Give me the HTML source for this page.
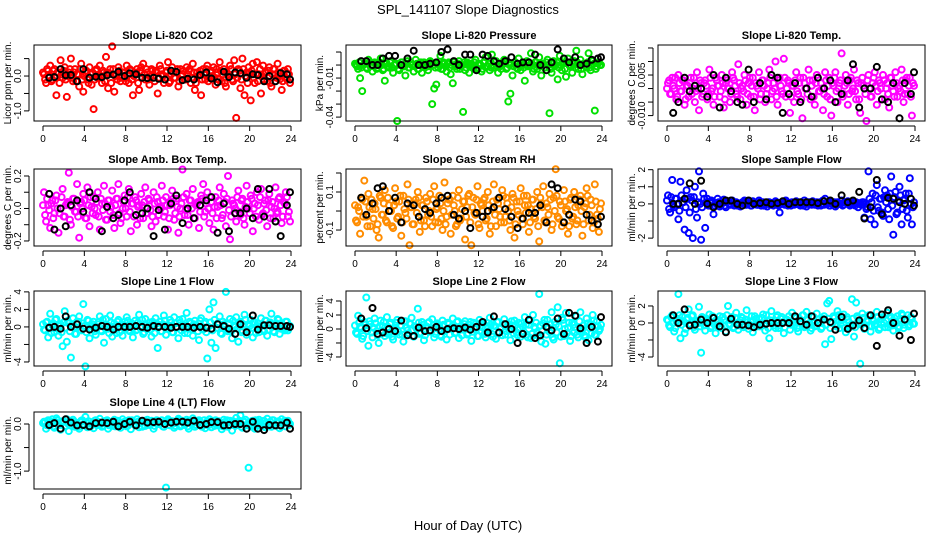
<!DOCTYPE html>
<html><head><meta charset="utf-8"><style>
html,body{margin:0;padding:0;background:#fff;}
svg{display:block;font-family:"Liberation Sans",sans-serif;}
</style></head><body>
<svg id="chart" width="936" height="540" viewBox="0 0 936 540" xmlns="http://www.w3.org/2000/svg">
<text x="468" y="14" text-anchor="middle" font-size="13">SPL_141107  Slope Diagnostics</text>
<text x="468" y="530" text-anchor="middle" font-size="13">Hour of Day (UTC)</text>
</svg>
<script>
const hours=[0.1,0.3,0.5,0.7,0.9,1.1,1.3,1.5,1.7,1.9,2.1,2.3,2.5,2.7,2.9,3.1,3.3,3.5,3.7,3.9,4.1,4.3,4.5,4.7,4.9,5.1,5.3,5.5,5.7,5.9,6.1,6.3,6.5,6.7,6.9,7.1,7.3,7.5,7.7,7.9,8.1,8.3,8.5,8.7,8.9,9.1,9.3,9.5,9.7,9.9,10.1,10.3,10.5,10.7,10.9,11.1,11.3,11.5,11.7,11.9,12.1,12.3,12.5,12.7,12.9,13.1,13.3,13.5,13.7,13.9,14.1,14.3,14.5,14.7,14.9,15.1,15.3,15.5,15.7,15.9,16.1,16.3,16.5,16.7,16.9,17.1,17.3,17.5,17.7,17.9,18.1,18.3,18.5,18.7,18.9,19.1,19.3,19.5,19.7,19.9,20.1,20.3,20.5,20.7,20.9,21.1,21.3,21.5,21.7,21.9,22.1,22.3,22.5,22.7,22.9,23.1,23.3,23.5,23.7,23.9];
const coreHours=[0.0,0.2,0.4,0.6,0.8,1.0,1.2,1.4,1.6,1.8,2.0,2.2,2.4,2.6,2.8,3.0,3.2,3.4,3.6,3.8,4.0,4.2,4.4,4.6,4.8,5.0,5.2,5.4,5.6,5.8,6.0,6.2,6.4,6.6,6.8,7.0,7.2,7.4,7.6,7.8,8.0,8.2,8.4,8.6,8.8,9.0,9.2,9.4,9.6,9.8,10.0,10.2,10.4,10.6,10.8,11.0,11.2,11.4,11.6,11.8,12.0,12.2,12.4,12.6,12.8,13.0,13.2,13.4,13.6,13.8,14.0,14.2,14.4,14.6,14.8,15.0,15.2,15.4,15.6,15.8,16.0,16.2,16.4,16.6,16.8,17.0,17.2,17.4,17.6,17.8,18.0,18.2,18.4,18.6,18.8,19.0,19.2,19.4,19.6,19.8,20.0,20.2,20.4,20.6,20.8,21.0,21.2,21.4,21.6,21.8,22.0,22.2,22.4,22.6,22.8,23.0,23.2,23.4,23.6,23.8];
const blackHours=[0.6,1.1,1.7,2.2,2.7,3.3,3.9,4.5,5.1,5.7,6.2,6.8,7.3,7.9,8.4,9.0,9.6,10.1,10.7,11.2,11.8,12.4,12.9,13.5,14.0,14.6,15.2,15.8,16.3,16.9,17.5,18.0,18.6,19.1,19.7,20.3,20.8,21.4,21.9,22.5,23.0,23.6,23.9];
const xTicks=[0,4,8,12,16,20,24];

const co2=[0.05,-0.2,0.15,0.3,-0.1,0.2,-0.55,0.1,0.45,-0.05,0.25,-0.6,0.1,0.5,-0.15,0.2,0.05,-0.3,0.35,-0.45,0.1,-0.1,0.25,-0.25,-0.95,0.15,-0.05,0.3,-0.2,0.1,0.55,-0.35,0.2,0.85,-0.45,0.05,0.25,-0.15,0.1,-0.05,0.3,-0.2,0.15,-0.55,0.05,0.2,-0.4,0.25,0.35,-0.1,0.1,-0.25,0.2,-0.05,0.15,-0.5,0.3,0.05,-0.2,0.1,0.4,-0.15,0.25,-0.05,0.1,-0.3,0.2,0.05,-0.1,0.25,0.15,-0.2,0.35,-0.4,0.1,0.05,-0.55,0.2,-0.1,0.3,-0.05,0.15,0.25,-0.25,0.1,0.4,-0.15,0.2,-0.3,0.05,0.3,-0.1,0.45,-1.2,0.2,-0.35,0.5,-0.55,0.1,0.25,-0.7,0.35,-0.2,0.4,0.05,-0.5,0.3,0.1,-0.15,0.25,-0.3,0.2,0.05,0.35,-0.1,-0.4,0.15,-0.05,0.2,-0.2];
const co2Core=[0.1,-0.1,0.2,0.0,-0.15,0.15,-0.05,0.1,-0.2,0.05,0.15,-0.1,0.0,0.2,-0.05,0.1,-0.15,0.05,0.2,-0.1,0.0,0.15,-0.2,0.05,0.1,-0.1,0.2,-0.05,0.0,0.15,-0.15,0.1,0.05,-0.2,0.2,0.0,-0.1,0.15,-0.05,0.1,-0.15,0.05,0.2,-0.1,0.0,0.1,-0.2,0.15,-0.05,0.05,0.2,-0.1,0.0,0.15,-0.15,0.1,-0.05,0.2,0.0,-0.1,0.15,-0.2,0.05,0.1,-0.05,0.2,-0.15,0.0,0.15,-0.1,0.05,0.2,-0.05,0.1,-0.2,0.0,0.15,-0.1,0.05,0.2,-0.15,0.1,0.0,-0.05,0.2,-0.1,0.15,0.05,-0.2,0.1,0.0,0.2,-0.15,0.05,-0.05,0.15,-0.1,0.2,0.0,-0.2,0.1,0.15,-0.05,0.05,-0.15,0.2,0.0,-0.1,0.1,0.15,-0.2,0.05,0.2,-0.05,0.0,0.1,-0.15,0.15,-0.1,0.05];
const co2Black=[-0.05,-0.03,0.2,0.02,0.03,-0.15,0.2,-0.05,-0.02,-0.03,0.02,0.04,0.12,0.0,0.08,0.05,-0.05,-0.06,-0.05,-0.08,-0.1,0.15,0.12,-0.12,-0.08,-0.1,0.03,0.1,-0.07,-0.18,0.12,-0.03,0.1,0.08,-0.05,0.05,0.03,-0.15,0.0,-0.15,0.08,0.05,-0.1];
const pres=[0,-0.003,-0.01,-0.02,0.001,-0.002,0.004,-0.001,-0.005,0.002,-0.003,0,0.005,-0.004,-0.012,0.001,-0.002,0.003,-0.006,0,-0.043,-0.004,0.002,-0.001,-0.008,0.003,-0.002,0,-0.005,0.004,-0.003,0.001,-0.006,0.002,-0.001,-0.004,0.003,-0.03,-0.018,-0.015,-0.002,0.007,-0.003,0.001,-0.005,0.002,-0.007,-0.014,0,-0.003,0.003,-0.001,-0.036,-0.004,0.002,-0.006,0.001,-0.002,0.004,-0.003,0,-0.005,0.002,0.006,-0.001,-0.004,0.008,-0.002,0.003,-0.006,-0.001,0.001,0.004,-0.003,-0.028,-0.022,-0.008,0.002,-0.002,0.005,-0.004,0,-0.012,0.003,-0.001,0.009,-0.005,0.002,-0.003,0.006,-0.008,0.001,-0.002,0.004,-0.037,-0.006,0.003,0,-0.011,0.007,-0.004,0.002,-0.009,0.005,-0.001,-0.006,0.003,0.011,-0.003,0.004,-0.007,0.001,-0.002,0.009,-0.004,0.003,-0.035,-0.001,0.002,0];
const presCore=[0.001,-0.001,0.002,-0.002,0.0,0.001,-0.003,0.002,0.0,-0.001,0.001,-0.002,0.002,0.0,-0.003,0.001,-0.001,0.002,-0.002,0.0,0.001,-0.003,0.0,0.002,-0.001,0.001,-0.002,0.002,0.0,-0.001,0.001,-0.003,0.002,0.0,-0.002,0.001,-0.001,0.002,0.0,-0.002,0.001,0.0,-0.003,0.002,-0.001,0.001,-0.002,0.0,0.002,-0.001,0.001,-0.003,0.0,0.002,-0.002,0.001,0.0,-0.001,0.002,-0.002,0.001,0.0,-0.003,0.002,-0.001,0.001,-0.002,0.0,0.002,-0.001,0.0,-0.003,0.001,0.002,-0.002,0.0,0.001,-0.001,0.002,-0.003,0.0,0.001,-0.002,0.002,-0.001,0.0,0.001,-0.003,0.002,0.0,-0.001,0.001,-0.002,0.002,0.0,-0.003,0.001,-0.001,0.002,-0.002,0.0,0.001,-0.003,0.002,0.0,-0.001,0.001,-0.002,0.002,0.0,-0.003,0.001,-0.001,0.002,-0.002,0.0,0.001,-0.003,0.002,0.0];
const presBlack=[0.003,0.003,0,0,0.005,0.007,0.007,0,0.005,0.011,0,0,0.001,0.002,0.01,0.012,0.003,0,0.008,0.008,-0.004,0.008,0.007,0.003,0.001,0.003,0.006,0.001,0.002,0.002,0.008,0,-0.004,0.002,0.012,0.005,0.002,0.006,0,0.001,0.004,0.005,0.006];
const temp=[0.002,-0.002,0.004,0.0,-0.004,0.005,-0.001,0.003,-0.006,0.001,-0.003,0.004,0.0,-0.005,0.006,-0.008,0.002,-0.002,0.003,-0.004,0.007,-0.001,-0.006,0.004,0.001,-0.003,0.005,-0.007,0.002,0.0,-0.005,0.006,0.003,-0.002,0.009,-0.004,0.001,0.005,-0.006,0.002,-0.003,0.004,-0.008,0.001,0.006,-0.002,0.003,-0.005,0.0,0.007,-0.004,0.002,0.01,-0.006,0.004,-0.001,0.011,-0.003,0.003,-0.009,0.001,-0.005,0.006,-0.002,0.004,-0.011,0.002,0.0,0.007,-0.004,0.003,-0.006,0.005,-0.001,0.002,-0.008,0.006,-0.003,0.004,-0.010,0.001,0.006,-0.005,0.002,0.013,-0.002,0.005,-0.006,0.003,-0.001,0.007,-0.004,0.002,-0.009,0.004,0.0,-0.012,0.005,-0.003,0.002,0.006,-0.006,0.003,0.0,0.005,-0.004,0.002,-0.007,0.004,-0.001,0.006,-0.003,0.001,0.007,-0.005,0.003,-0.002,0.004,-0.010,0.001];
const tempCore=[0.0,0.003,-0.002,0.001,0.004,-0.003,0.002,-0.001,0.003,-0.004,0.001,0.002,-0.002,0.004,-0.001,0.0,0.003,-0.003,0.002,0.001,-0.002,0.004,0.0,-0.003,0.003,0.001,-0.001,0.002,-0.004,0.003,0.0,-0.002,0.004,0.001,-0.003,0.002,0.0,-0.001,0.003,-0.002,0.004,0.001,-0.003,0.002,0.0,-0.004,0.003,0.001,-0.002,0.002,0.004,-0.001,0.0,-0.003,0.003,0.001,-0.002,0.004,0.0,0.002,-0.003,0.001,0.003,-0.001,0.002,-0.004,0.004,0.0,-0.002,0.003,0.001,-0.003,0.002,0.004,-0.001,0.0,-0.002,0.003,0.001,-0.004,0.002,0.004,-0.001,0.0,0.003,-0.003,0.001,0.002,-0.002,0.004,0.0,-0.001,0.003,-0.004,0.002,0.001,-0.002,0.003,0.0,-0.003,0.004,0.001,-0.001,0.002,-0.004,0.003,0.0,-0.002,0.004,0.001,-0.003,0.002,0.0,-0.001,0.003,-0.002,0.004,0.001,-0.003,0.002];
const tempBlack=[-0.009,-0.005,0.004,-0.001,0.001,0.0,-0.003,0.005,-0.007,0.004,-0.001,-0.005,-0.006,0.007,-0.005,0.002,-0.004,0.005,0.004,-0.009,-0.002,0.002,-0.005,0.0,-0.003,0.004,0.0,0.003,-0.005,-0.002,0.003,0.009,-0.007,0.0,0.0,0.008,-0.004,-0.005,0.002,-0.011,0.002,-0.002,0.006];
const amb=[0.1,-0.08,0.02,-0.12,0.05,-0.03,0.08,-0.15,0.0,0.12,-0.05,0.03,0.22,-0.1,0.06,-0.02,0.15,-0.18,0.04,0.09,-0.06,0.13,-0.11,0.01,0.07,-0.04,0.1,-0.13,0.03,0.14,-0.07,0.05,-0.02,0.11,-0.12,0.06,0.15,-0.09,0.0,0.08,-0.05,0.12,-0.14,0.03,0.07,-0.1,0.02,0.09,-0.06,0.13,-0.03,0.05,-0.11,0.1,-0.08,0.04,0.01,0.14,-0.05,0.07,-0.13,0.02,0.11,-0.07,0.06,-0.15,0.0,0.24,-0.04,0.09,-0.1,0.05,0.12,-0.06,0.03,-0.12,0.08,0.15,-0.02,0.1,-0.09,0.04,-0.13,0.07,0.01,0.13,-0.06,0.09,-0.11,0.2,-0.19,0.05,0.02,-0.08,0.11,-0.04,0.06,-0.1,0.14,0.0,0.08,-0.14,0.03,0.1,-0.07,0.12,-0.03,0.05,-0.11,0.09,0.01,-0.06,0.13,-0.02,0.07,-0.09,0.04,0.1,-0.05,-0.08];
const ambCore=[0.02,-0.04,0.06,-0.01,0.03,-0.06,0.05,0.0,-0.03,0.07,-0.05,0.02,0.04,-0.07,0.01,0.06,-0.02,-0.05,0.03,0.0,0.05,-0.06,0.02,0.07,-0.03,0.0,0.04,-0.05,0.06,-0.01,0.03,-0.07,0.05,0.01,-0.04,0.02,0.06,-0.03,-0.06,0.04,0.0,0.07,-0.02,0.03,-0.05,0.05,0.01,-0.06,0.02,0.04,-0.03,0.06,-0.01,-0.05,0.03,0.07,-0.04,0.0,0.05,-0.02,0.02,-0.06,0.04,0.06,-0.03,0.01,-0.05,0.03,0.07,-0.01,-0.04,0.05,0.0,-0.06,0.02,0.04,-0.02,0.06,-0.05,0.03,0.0,0.07,-0.03,0.01,-0.06,0.05,0.02,-0.04,0.04,0.06,-0.01,-0.05,0.03,0.0,0.07,-0.02,0.05,-0.06,0.01,0.04,-0.03,0.06,0.0,-0.05,0.02,0.07,-0.04,0.03,-0.01,0.05,-0.06,0.04,0.0,-0.03,0.06,0.02,-0.05,0.03,0.07,-0.02];
const ambBlack=[0.09,-0.13,0.0,-0.11,0.02,0.05,-0.02,0.1,0.06,-0.14,0.01,-0.06,-0.04,0.05,0.1,-0.04,-0.03,0.0,-0.17,-0.01,-0.13,0.03,0.08,-0.09,0.0,-0.06,0.02,0.05,0.07,-0.15,0.03,-0.14,-0.03,-0.03,0.0,-0.06,0.12,-0.05,0.12,-0.08,-0.17,0.02,0.1];
const rh=[-0.05,0.02,-0.12,0.06,0.16,-0.03,0.09,-0.08,0.01,0.04,-0.1,-0.14,0.07,-0.02,0.11,-0.06,0.03,0.0,-0.09,0.12,-0.04,0.05,-0.13,0.08,-0.01,0.14,-0.18,0.02,-0.07,0.06,0.1,-0.11,0.03,-0.05,0.07,-0.02,0.09,-0.08,0.13,0.01,-0.06,0.04,-0.1,0.15,-0.03,0.06,-0.12,0.08,0.0,-0.07,0.11,-0.04,0.05,-0.15,0.02,0.09,-0.18,0.07,-0.02,0.13,-0.09,0.03,0.06,-0.05,0.1,-0.12,0.01,0.14,-0.08,0.04,-0.03,0.11,-0.06,0.07,0.0,-0.1,0.09,-0.14,0.05,-0.02,0.12,-0.07,0.03,0.08,-0.11,0.01,0.06,-0.04,0.1,-0.16,0.04,0.13,-0.06,0.02,0.09,-0.1,0.07,0.22,-0.03,0.05,-0.08,0.11,0.0,-0.12,0.06,-0.04,0.1,-0.07,0.03,0.08,-0.13,0.02,0.12,-0.05,0.06,-0.09,0.14,-0.02,-0.11,0.04];
const rhCore=[0.03,-0.06,0.0,0.07,-0.03,0.05,-0.08,0.02,0.06,-0.04,0.01,-0.07,0.08,-0.02,0.04,-0.05,0.07,0.0,-0.08,0.03,0.05,-0.03,0.08,-0.06,0.01,-0.04,0.06,0.02,-0.07,0.04,-0.01,0.07,-0.05,0.03,-0.08,0.05,0.0,-0.03,0.06,-0.06,0.02,0.08,-0.04,0.0,-0.07,0.04,0.06,-0.02,0.03,-0.08,0.07,-0.05,0.01,0.05,-0.03,0.08,-0.06,0.02,-0.01,0.06,-0.07,0.04,0.0,0.07,-0.04,0.03,-0.08,0.05,-0.02,0.06,0.01,-0.06,0.08,-0.03,0.04,-0.05,0.02,0.07,-0.07,0.0,0.05,-0.04,0.08,-0.01,0.03,-0.06,0.06,-0.03,0.01,-0.08,0.07,0.02,-0.05,0.04,-0.02,0.06,-0.07,0.0,0.08,-0.04,0.03,-0.06,0.05,0.01,-0.08,0.07,-0.03,0.02,-0.05,0.06,0.0,-0.07,0.04,0.08,-0.02,0.03,-0.06,0.05,-0.04,0.01];
const rhBlack=[0.07,-0.02,0.04,0.12,0.13,0.0,0.07,-0.06,0.04,0.03,-0.03,0.01,-0.01,0.04,0.07,0.08,-0.02,-0.04,0.0,-0.09,-0.01,-0.03,0.0,0.02,0.07,0.01,-0.03,-0.09,-0.04,-0.01,-0.01,0.03,-0.06,0.14,0.12,-0.06,-0.02,0.06,0.05,-0.02,-0.05,-0.07,-0.03];
const sflow=[0.5,-0.5,1.4,-0.2,0.3,-0.9,1.3,0.1,-1.5,0.8,-1.7,0.4,-2.0,1.0,-0.8,1.9,-2.1,0.6,-1.4,0.3,-0.1,0.2,-0.6,0.05,0.3,-0.15,0.1,0.25,-0.2,0.15,-0.05,0.2,-0.1,0.1,0.0,-0.15,0.1,0.2,-0.05,0.1,-0.1,0.15,0.05,-0.05,0.2,-0.1,0.1,0.0,-0.15,0.1,0.05,-0.1,0.15,-0.05,-0.5,0.1,0.0,0.2,-0.1,0.05,0.1,-0.05,0.15,0.0,-0.1,0.05,0.2,-0.15,0.1,0.0,0.15,-0.05,0.1,0.05,-0.1,0.2,0.3,0.0,-0.1,0.1,0.05,-0.15,0.1,0.0,0.2,-0.05,0.1,0.15,-0.1,0.05,0.0,0.1,-0.2,0.05,0.1,-0.8,-0.3,1.9,-0.9,0.6,-1.2,1.1,-0.4,0.3,-0.7,0.8,0.5,-0.9,1.6,-1.8,0.7,-0.5,1.0,-1.2,0.2,0.6,-0.8,1.5,-1.2,0.1];
const sflowCore=[0.2,-0.3,0.4,-0.1,0.3,0.0,-0.4,0.5,0.1,-0.2,0.3,-0.5,0.2,0.4,-0.3,0.1,0.0,-0.2,0.3,0.1,-0.1,0.05,0.1,-0.1,0.0,0.1,-0.05,0.05,-0.1,0.1,0.0,-0.05,0.1,0.05,-0.1,0.0,0.05,0.1,-0.05,0.0,0.1,-0.1,0.05,0.0,-0.05,0.1,0.05,-0.1,0.0,0.1,-0.05,0.05,0.0,0.1,-0.1,0.05,0.0,-0.05,0.1,0.0,-0.1,0.05,0.1,0.0,-0.05,0.1,-0.1,0.05,0.0,0.1,-0.05,0.0,0.05,-0.1,0.1,0.0,-0.05,0.05,0.1,-0.1,0.0,0.1,-0.05,0.05,0.0,-0.1,0.1,0.05,0.0,-0.05,0.1,-0.1,0.05,0.0,-0.05,0.1,0.0,-0.2,0.3,0.1,-0.4,0.5,-0.2,0.3,-0.5,0.4,0.1,-0.3,0.6,-0.1,0.4,-0.6,0.2,0.5,-0.3,0.3,-0.4,0.6,0.0,-0.2];
const sflowBlack=[0.0,0.0,0.3,1.2,0.0,1.35,0.0,-0.2,0.0,0.2,0.2,0.0,-0.1,0.2,0.0,0.05,0.1,0.0,0.05,0.15,0.0,0.1,0.1,0.1,0.1,0.05,0.15,0.2,0.0,0.5,0.1,0.2,0.7,-0.85,-0.2,1.4,-0.6,0.35,0.3,0.1,0.0,0.3,-0.1];
const line1=[-0.3,0.5,-1.2,1.5,0.2,-0.6,0.9,-1.0,0.3,-2.2,1.8,-1.7,0.4,-3.5,1.0,-0.8,0.6,1.2,-0.4,2.6,-4.5,0.8,-1.3,0.1,0.6,-0.9,0.3,1.2,-0.5,-1.8,0.9,-0.2,1.3,-1.1,0.4,-0.7,0.8,0.0,-1.0,0.6,1.1,-0.4,0.2,-1.2,0.7,-0.3,1.4,0.1,-0.8,0.9,-0.2,0.5,-1.1,0.3,1.0,-2.4,0.6,-0.5,1.3,-0.9,0.2,0.8,-0.6,1.1,-0.1,-1.3,0.5,0.9,-0.7,1.6,-0.2,0.4,-1.0,0.7,0.1,-1.5,1.0,-0.3,0.6,-3.6,2.0,-1.8,2.8,-2.4,0.4,1.2,-0.8,0.3,4.0,-0.5,0.9,-1.3,0.2,1.1,-1.7,0.6,-0.4,1.4,-0.9,0.3,0.8,-1.2,0.5,0.1,-0.6,1.0,-0.3,0.7,-1.0,0.4,1.5,-0.5,0.2,0.9,-0.8,0.3,-0.2,0.6,-0.4,0.1];
const line1Core=[0.3,-0.4,0.6,0.0,-0.7,0.4,0.8,-0.2,0.1,-0.6,0.5,-0.1,0.7,-0.5,0.2,0.0,-0.8,0.6,-0.3,0.4,0.1,-0.6,0.7,-0.2,0.3,-0.5,0.0,0.6,-0.4,0.8,-0.1,0.2,-0.7,0.5,0.0,-0.3,0.6,-0.6,0.3,0.1,-0.2,0.7,-0.5,0.4,0.0,-0.4,0.5,-0.1,0.8,-0.6,0.2,0.0,-0.3,0.6,-0.7,0.4,0.1,-0.5,0.3,0.7,-0.2,0.0,0.5,-0.6,0.4,-0.1,0.8,-0.4,0.2,0.0,-0.7,0.6,-0.3,0.3,0.1,-0.5,0.7,-0.2,0.4,-0.6,0.0,0.5,-0.4,0.8,-0.1,0.3,-0.7,0.6,0.1,-0.3,0.4,-0.5,0.7,0.0,-0.2,0.5,-0.6,0.3,0.8,-0.4,0.1,-0.1,0.6,-0.7,0.4,0.0,0.2,-0.5,0.7,-0.3,0.5,0.0,-0.6,0.4,0.8,-0.2,0.1,-0.4,0.6,-0.1];
const line1Black=[-0.1,0.0,-0.2,1.2,0.0,0.3,-0.2,-0.3,-0.1,0.1,0.0,-0.3,0.0,0.0,0.0,0.1,0.0,-0.1,0.1,0.0,0.0,-0.1,0.0,0.0,0.0,-0.1,0.0,-0.1,-0.2,0.3,0.1,-0.2,-0.8,0.3,-0.6,1.3,-0.3,0.2,0.2,0.1,0.1,0.1,0.0];
const line2=[-0.5,1.9,0.3,-1.4,1.0,4.5,-2.4,0.7,-1.2,1.5,-0.3,-2.0,1.2,0.4,-1.0,1.7,-0.6,0.9,-1.5,0.2,1.3,-0.8,0.5,-1.8,1.1,-0.2,0.8,1.6,-1.1,0.3,2.9,-0.7,1.0,-1.6,0.4,0.9,-0.4,1.4,-1.2,0.1,0.6,-0.9,1.2,-0.3,-1.5,0.7,0.2,1.5,-0.6,1.0,-1.3,0.4,-0.1,1.1,-0.8,0.6,-1.7,0.9,0.3,-1.0,1.3,-0.4,0.8,-1.2,0.1,1.6,-0.7,0.5,-1.4,1.0,0.2,-0.9,1.4,-0.3,0.7,-1.6,0.4,1.2,-0.5,0.9,-1.1,0.3,1.7,-0.8,0.6,-1.3,2.0,0.1,-0.6,5.0,-1.8,0.8,-2.1,1.3,-0.4,2.4,-1.5,0.6,3.1,-4.9,1.6,-1.0,2.3,0.2,-1.7,0.9,-0.5,1.8,-1.2,2.4,0.0,-0.9,1.5,-1.6,0.7,2.0,-0.8,1.1,-0.3,0.6];
const line2Core=[0.5,-0.7,0.9,0.1,-1.0,0.6,-0.3,1.1,-0.5,0.2,0.8,-0.9,0.4,-0.2,1.0,-0.6,0.3,0.7,-1.1,0.0,0.9,-0.4,0.5,-0.8,1.1,0.2,-0.6,0.7,-1.0,0.4,0.0,0.9,-0.5,0.6,-0.9,0.3,1.0,-0.3,0.1,-0.7,0.8,0.4,-1.1,0.6,-0.2,0.9,-0.8,0.2,0.5,-0.5,1.1,-0.1,-0.9,0.7,0.3,-0.6,1.0,-0.4,0.0,0.8,-1.0,0.5,0.2,-0.7,0.9,-0.3,0.6,-1.1,0.4,1.0,-0.5,0.1,0.7,-0.8,0.3,-0.2,1.1,-0.6,0.5,-0.9,0.0,0.8,-0.4,0.6,-1.2,1.2,-0.7,0.3,0.9,-1.0,0.5,-0.3,1.3,-0.8,0.2,0.7,-1.2,1.0,-0.5,0.4,-1.1,1.3,0.0,-0.6,0.9,-1.0,0.6,0.2,-0.8,1.1,-0.4,0.5,-1.2,0.8,0.1,-0.6,1.2,-0.9,0.4,0.0];
const line2Black=[1.5,0.1,3.0,-0.7,-0.5,0.0,-0.3,1.2,-0.9,-1.0,0.2,-0.3,-0.2,0.3,-0.3,0.0,0.1,0.0,0.2,-0.1,0.3,1.0,-0.5,1.8,-0.5,0.7,0.0,-2.0,-0.7,1.3,-1.3,-0.9,0.3,-0.2,1.5,-0.7,2.3,1.9,0.1,-2.0,0.3,-1.8,1.7];
const line3=[0.3,-0.5,0.9,-1.0,0.2,3.4,-1.8,0.7,-1.2,0.4,1.6,-0.3,0.9,-0.8,0.2,1.9,-3.5,0.5,-0.9,0.3,1.0,-0.4,0.6,-1.2,0.1,0.8,-0.6,0.4,-1.0,2.0,-0.2,0.7,-0.5,1.2,-0.8,0.3,0.6,-0.3,1.5,-0.7,0.2,-1.1,0.8,-0.4,0.5,-0.2,1.0,-0.9,0.3,-1.8,1.4,0.0,-0.6,0.9,-0.3,0.7,-1.2,0.4,0.1,-0.8,1.2,-0.3,0.6,-1.0,0.2,0.9,-0.5,1.3,-0.1,-0.9,0.7,-0.4,1.1,0.0,-0.7,0.5,-2.5,2.3,2.6,-1.9,0.8,-0.2,1.4,-0.6,0.3,1.0,-1.1,0.4,-0.5,2.8,-1.6,2.4,0.6,-4.8,1.1,-0.7,0.2,0.9,-1.0,0.5,-0.3,1.3,-0.8,0.4,0.7,-0.5,1.2,-0.2,0.6,-0.9,0.1,0.8,-0.4,1.1,-0.6,0.3,0.9,-0.2,0.5,-0.1];
const line3Core=[0.4,-0.3,0.7,0.0,-0.6,0.5,0.9,-0.2,0.2,-0.7,0.6,-0.1,0.8,-0.5,0.3,0.0,-0.4,0.7,-0.3,0.5,0.1,-0.6,0.8,-0.2,0.4,-0.5,0.0,0.7,-0.4,0.9,-0.1,0.3,-0.6,0.6,0.0,-0.3,0.7,-0.5,0.4,0.1,-0.2,0.8,-0.5,0.5,0.0,-0.4,0.6,-0.1,0.9,-0.6,0.3,0.0,-0.3,0.7,-0.6,0.5,0.1,-0.5,0.4,0.8,-0.2,0.0,0.6,-0.6,0.5,-0.1,0.9,-0.4,0.3,0.0,-0.6,0.7,-0.3,0.4,0.1,-0.5,0.8,-0.2,0.5,-0.6,0.0,0.6,-0.4,0.9,-0.1,0.4,-0.6,0.7,0.1,-0.3,0.5,-0.5,0.8,0.0,-0.2,0.6,-0.6,0.4,0.9,-0.4,0.2,-0.1,0.7,-0.6,0.5,0.0,0.3,-0.5,0.8,-0.3,0.6,0.0,-0.6,0.5,0.9,-0.2,0.2,-0.4,0.7,-0.1];
const line3Black=[0.9,0.0,1.6,-0.3,-0.2,0.4,0.0,0.6,-0.4,-1.1,0.5,-0.2,-0.2,-0.3,-0.5,-0.2,-0.1,0.0,0.0,0.0,0.0,0.8,0.2,-0.2,0.8,0.0,0.4,0.1,-0.8,0.7,-0.7,-0.3,0.3,-0.6,0.9,-2.7,1.0,1.5,0.0,-1.5,0.4,-2.0,1.1];
const line4=[0.05,-0.1,0.08,-0.03,0.1,-0.08,0.12,0.0,-0.12,0.06,-0.05,0.1,-0.15,0.04,0.09,-0.06,0.02,-0.1,0.07,-0.03,0.15,-0.07,0.05,0.0,-0.09,0.08,-0.02,0.11,-0.06,0.03,0.07,-0.1,0.04,-0.04,0.09,-0.01,0.06,-0.08,0.1,0.02,-0.05,0.08,-0.11,0.05,0.0,0.1,-0.07,0.03,0.06,-0.04,0.09,-0.02,0.07,-0.1,0.04,0.01,0.01,0.08,-0.06,-1.35,0.1,-0.03,0.06,-0.08,0.02,0.11,-0.05,0.07,-0.02,0.09,-0.1,0.04,0.12,-0.06,0.03,0.08,-0.04,0.01,-0.09,0.06,0.1,-0.07,0.02,0.08,-0.03,0.05,-0.11,0.09,0.0,-0.06,0.07,-0.14,0.04,0.13,0.04,0.18,-0.08,0.05,-0.02,-0.93,-0.05,0.07,-0.1,0.03,0.09,-0.04,0.06,-0.07,0.11,0.0,-0.06,0.08,-0.03,0.05,-0.09,0.1,0.02,-0.05,0.07,0.0];
const line4Core=[0.02,0.05,-0.03,0.07,0.0,-0.05,0.04,0.08,-0.02,0.03,0.06,-0.04,0.01,0.07,-0.03,0.05,0.0,-0.06,0.04,0.08,-0.01,0.03,0.06,-0.05,0.02,0.07,-0.02,0.04,0.0,-0.04,0.06,0.08,-0.03,0.02,0.05,-0.05,0.07,0.01,-0.02,0.04,0.06,-0.04,0.03,0.08,0.0,-0.03,0.05,0.02,-0.06,0.07,0.04,-0.01,0.03,0.06,-0.04,0.08,0.0,0.02,-0.05,0.05,0.07,-0.02,0.04,0.01,-0.04,0.06,0.08,-0.03,0.02,0.05,-0.05,0.07,0.0,0.03,-0.02,0.06,0.04,-0.06,0.08,0.01,-0.03,0.05,0.07,-0.04,0.02,0.06,0.0,-0.05,0.04,0.08,-0.02,0.03,0.06,-0.04,0.01,0.07,-0.06,0.05,0.09,-0.03,0.02,0.06,-0.05,0.08,0.0,0.04,-0.03,0.07,0.02,-0.05,0.05,0.08,-0.02,0.03,0.06,-0.04,0.01,0.07,0.04,-0.02];
const line4Black=[-0.02,0.02,-0.1,0.1,0.03,-0.03,-0.02,-0.05,0.02,0.03,0.02,0.05,-0.05,0.0,0.05,-0.03,0.07,0.03,0.04,0.05,0.0,0.03,0.05,0.05,0.03,0.07,-0.02,0.0,0.04,0.04,-0.03,-0.02,0.0,0.0,-0.1,0.05,-0.1,-0.13,-0.02,-0.03,-0.03,0.03,-0.1];

const co2Ticks=[-1,-0.5,0,0.5], co2TickLabels=["-1.0","","0.0",""];
const presTicks=[-0.04,-0.03,-0.02,-0.01,0,0.01], presTickLabels=["-0.04","","","-0.01","",""];
const tempTicks=[-0.01,-0.005,0,0.005,0.01,0.015], tempTickLabels=["-0.010","","","0.005","",""];
const ambTicks=[-0.2,-0.1,0,0.1,0.2], ambTickLabels=["-0.2","","0.0","","0.2"];
const rhTicks=[-0.1,0,0.1,0.2], rhTickLabels=["-0.1","","0.1",""];
const sflowTicks=[-2,-1,0,1,2], sflowTickLabels=["-2","","0","1","2"];
const line1Ticks=[-4,-2,0,2,4], line1TickLabels=["-4","","0","2","4"];
const line2Ticks=[-4,-2,0,2,4], line2TickLabels=["-4","","0","2","4"];
const line3Ticks=[-4,-2,0,2], line3TickLabels=["-4","","0","2"];
const line4Ticks=[-1,-0.5,0], line4TickLabels=["-1.0","","0.0"];

const NS="http://www.w3.org/2000/svg";
const svg=document.getElementById('chart');
const cols=[{l:34,r:301},{l:346,r:612},{l:658,r:925}];
const rows=[{t:45,b:121},{t:169,b:246},{t:291,b:366},{t:412,b:489}];
const panels=[
 {name:'co2',title:'Slope Li-820 CO2',yl:'Licor ppm per min.',c:0,r:0,dom:[-1.29,0.89],v:co2,cv:co2Core,bv:co2Black,tk:co2Ticks,tl:co2TickLabels,col:'#ff0000'},
 {name:'pressure',title:'Slope Li-820 Pressure',yl:'kPa per min.',c:1,r:0,dom:[-0.043,0.0154],v:pres,cv:presCore,bv:presBlack,tk:presTicks,tl:presTickLabels,col:'#00e000'},
 {name:'li820-temp',title:'Slope Li-820 Temp.',yl:'degrees C per min.',c:2,r:0,dom:[-0.012,0.0161],v:temp,cv:tempCore,bv:tempBlack,tk:tempTicks,tl:tempTickLabels,col:'#ff00ff'},
 {name:'amb-box-temp',title:'Slope Amb. Box Temp.',yl:'degrees C per min.',c:0,r:1,dom:[-0.231,0.243],v:amb,cv:ambCore,bv:ambBlack,tk:ambTicks,tl:ambTickLabels,col:'#ff00ff'},
 {name:'gas-stream-rh',title:'Slope Gas Stream RH',yl:'percent per min.',c:1,r:1,dom:[-0.184,0.221],v:rh,cv:rhCore,bv:rhBlack,tk:rhTicks,tl:rhTickLabels,col:'#ff8c00'},
 {name:'sample-flow',title:'Slope Sample Flow',yl:'ml/min per min.',c:2,r:1,dom:[-2.46,2.04],v:sflow,cv:sflowCore,bv:sflowBlack,tk:sflowTicks,tl:sflowTickLabels,col:'#0000ff'},
 {name:'line1-flow',title:'Slope Line 1 Flow',yl:'ml/min per min.',c:0,r:2,dom:[-4.46,4.1],v:line1,cv:line1Core,bv:line1Black,tk:line1Ticks,tl:line1TickLabels,col:'#00ffff'},
 {name:'line2-flow',title:'Slope Line 2 Flow',yl:'ml/min per min.',c:1,r:2,dom:[-5.29,5.43],v:line2,cv:line2Core,bv:line2Black,tk:line2Ticks,tl:line2TickLabels,col:'#00ffff'},
 {name:'line3-flow',title:'Slope Line 3 Flow',yl:'ml/min per min.',c:2,r:2,dom:[-5.06,3.76],v:line3,cv:line3Core,bv:line3Black,tk:line3Ticks,tl:line3TickLabels,col:'#00ffff'},
 {name:'line4-flow',title:'Slope Line 4 (LT) Flow',yl:'ml/min per min.',c:0,r:3,dom:[-1.38,0.255],v:line4,cv:line4Core,bv:line4Black,tk:line4Ticks,tl:line4TickLabels,col:'#00ffff'}
];
function mk(tag,attrs,parent){const e=document.createElementNS(NS,tag);for(const k in attrs)e.setAttribute(k,attrs[k]);parent.appendChild(e);return e;}
panels.forEach(p=>{
 const C=cols[p.c],R=rows[p.r];
 const g=mk('g',{},svg);
 
 
 const x=h=>C.l+9+(h/24)*(C.r-C.l-19);
 const y=v=>R.b-(v-p.dom[0])/(p.dom[1]-p.dom[0])*(R.b-R.t);
 const pts=mk('g',{fill:'none',stroke:p.col,'stroke-width':'2'},g);
 
 
 p.cv.forEach((v,i)=>{const c=mk('circle',{cx:x(coreHours[i]).toFixed(1),cy:y(v).toFixed(1),r:3},pts);
  
  });
 p.v.forEach((v,i)=>{const c=mk('circle',{cx:x(hours[i]).toFixed(1),cy:y(v).toFixed(1),r:3},pts);
  
  });
 const bp=mk('g',{fill:'none',stroke:'#000','stroke-width':'2'},g);
 
 
 p.bv.forEach((v,i)=>{const c=mk('circle',{cx:x(blackHours[i]).toFixed(1),cy:y(v).toFixed(1),r:3},bp);
  
  });
 const box=mk('rect',{x:C.l,y:R.t,width:C.r-C.l,height:R.b-R.t,fill:'none',stroke:'#000','stroke-width':'1'},g);
 
 
 const t=mk('text',{x:(C.l+C.r)/2,y:R.t-6,'text-anchor':'middle','font-size':'11','font-weight':'bold'},g);
 t.textContent=p.title;
 
 
 const xa=mk('g',{stroke:'#000','stroke-width':'1'},g);
 
 
 mk('line',{x1:x(0),x2:x(24),y1:R.b+5,y2:R.b+5},xa);
 xTicks.forEach(h=>{mk('line',{x1:x(h),x2:x(h),y1:R.b+5,y2:R.b+10},xa);
  const tx=mk('text',{x:x(h),y:R.b+21,'text-anchor':'middle','font-size':'10',stroke:'none',fill:'#000'},xa);
  tx.textContent=String(h);
  
  });
 const ya=mk('g',{stroke:'#000','stroke-width':'1'},g);
 
 
 const ax=C.l-5;
 mk('line',{x1:ax,x2:ax,y1:y(p.tk[0]),y2:y(p.tk[p.tk.length-1])},ya);
 p.tk.forEach((v,i)=>{const yy=y(v);mk('line',{x1:ax-5,x2:ax,y1:yy,y2:yy},ya);
  if(p.tl[i]){const tx=mk('text',{x:0,y:0,transform:`translate(${ax-8},${yy}) rotate(-90)`,'text-anchor':'middle','font-size':'10',stroke:'none',fill:'#000'},ya);
  tx.textContent=p.tl[i];
  
  }});
 const yl=mk('text',{x:0,y:0,transform:`translate(${C.l-23},${(R.t+R.b)/2}) rotate(-90)`,'text-anchor':'middle','font-size':'10'},g);
 yl.textContent=p.yl;
 
 
});
</script>
</body></html>
